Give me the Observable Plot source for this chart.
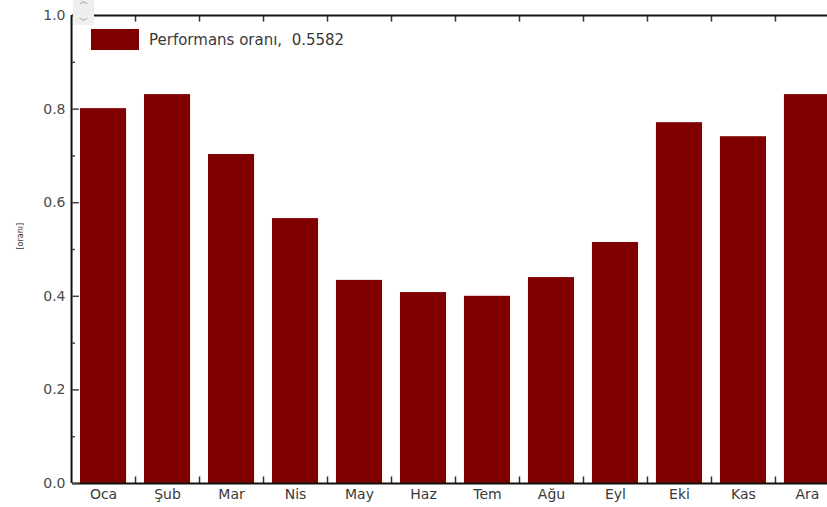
<!DOCTYPE html>
<html>
<head>
<meta charset="utf-8">
<script src="https://cdn.jsdelivr.net/npm/d3@7"></script>
<script src="https://cdn.jsdelivr.net/npm/@observablehq/plot@0.6"></script>
<style>
  html, body { margin: 0; padding: 0; background: #fff; }
  #wrap { position: relative; width: 827px; height: 507px; overflow: hidden; font-family: "DejaVu Sans", Verdana, sans-serif; }
  #legend { position: absolute; left: 91px; top: 29px; display: flex; align-items: center; font-size: 15px; color: #3a3a3a; }
  #legend .sw { width: 48px; height: 21px; background: #800000; margin-right: 10px; }
  #scroll { position: absolute; left: 73px; top: 0px; width: 21px; height: 25px; background: #efefef; color: #aaa; font-size: 9px; line-height: 11px; text-align: center; }
</style>
</head>
<body>
<div id="wrap">
  <div id="chart"></div>
  <div id="legend"><div class="sw"></div><span>Performans oranı,&nbsp; 0.5582</span></div>
  <div id="scroll"><div style="transform:scaleX(1.6)">^</div><div style="transform:scaleX(1.6) rotate(180deg)">^</div></div>
</div>
<script>
const months = ["Oca", "Şub", "Mar", "Nis", "May", "Haz", "Tem", "Ağu", "Eyl", "Eki", "Kas", "Ara"];
const values = [0.801, 0.831, 0.703, 0.566, 0.434, 0.408, 0.400, 0.440, 0.515, 0.771, 0.741, 0.831];
const yMajor = [0, 0.2, 0.4, 0.6, 0.8, 1.0];
const yMinor = [0.1, 0.3, 0.5, 0.7, 0.9];
const yLabel = "[oranı]";
const barColor = "#800000";

const data = months.map((m, i) => ({month: m, value: values[i]}));
const xRange = [80, 830];
const pad = 0.28;
const half = (xRange[1] - xRange[0]) / (months.length - pad) / 2;

const chart = Plot.plot({
  width: 827,
  height: 507,
  marginLeft: 72,
  marginTop: 15,
  marginBottom: 24,
  marginRight: 0,
  style: {fontFamily: "'DejaVu Sans', Verdana, sans-serif", fontSize: "14px", color: "#444", background: "#fff"},
  x: {domain: months, range: xRange, paddingInner: pad, paddingOuter: 0, round: false, label: null},
  y: {domain: [0, 1], label: null},
  marks: [
    Plot.barY(data, {x: "month", y: "value", fill: barColor}),
    Plot.axisY(yMajor, {tickSize: 0, tickPadding: 7, tickFormat: d3.format(".1f"), fill: "#4a4a4a"}),
    Plot.axisX({tickSize: 0, tickPadding: 6, fill: "#3a3a3a"}),
    Plot.ruleX(months.slice(1), {x: d => d, dx: -half, y1: 0, y2: 0.014, stroke: "#333", strokeWidth: 1.5}),
    Plot.ruleX(months.slice(1), {x: d => d, dx: -half, y1: 1, y2: 0.986, stroke: "#333", strokeWidth: 1.5}),
    Plot.ruleY([0, 1], {stroke: "#111", strokeWidth: 2}),
    Plot.ruleX([months[0]], {dx: -half, y1: 0, y2: 1, stroke: "#111", strokeWidth: 2}),
    Plot.axisY(yMajor, {tickSize: -7, text: null, strokeWidth: 1.5}),
    Plot.axisY(yMinor, {tickSize: -3, text: null, strokeWidth: 1.5}),
    Plot.text([yLabel], {frameAnchor: "left", dx: -52, rotate: -90, fontSize: 8, fill: "#333"})
  ]
});
document.getElementById("chart").appendChild(chart);
</script>
</body>
</html>
